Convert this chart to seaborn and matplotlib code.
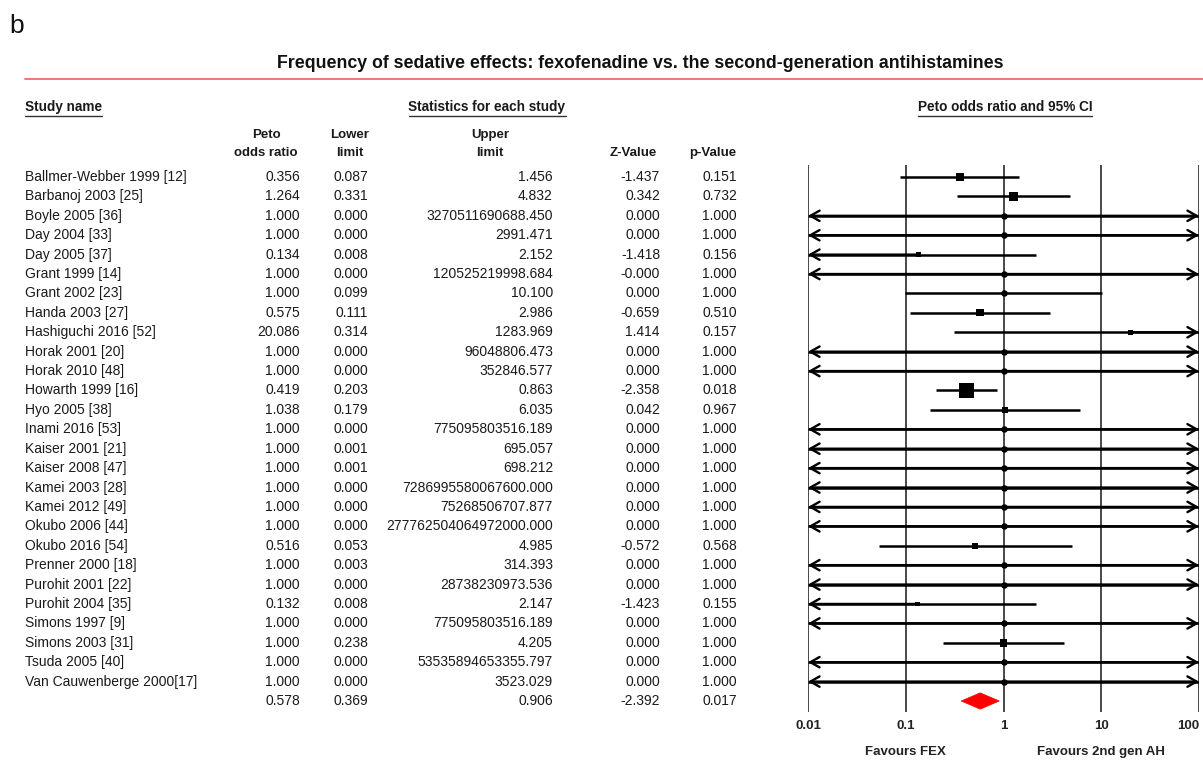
import numpy as np
import pandas as pd
import matplotlib
matplotlib.use("Agg")
import matplotlib.pyplot as plt
import matplotlib.transforms as mtransforms
from matplotlib.patches import Polygon
from matplotlib.lines import Line2D
from matplotlib.ticker import NullLocator
import seaborn as sns

# ---------------- data ----------------
studies = [
    "Ballmer-Webber 1999 [12]", "Barbanoj 2003 [25]", "Boyle 2005 [36]", "Day 2004 [33]",
    "Day 2005 [37]", "Grant 1999 [14]", "Grant 2002 [23]", "Handa 2003 [27]",
    "Hashiguchi 2016 [52]", "Horak 2001 [20]", "Horak 2010 [48]", "Howarth 1999 [16]",
    "Hyo 2005 [38]", "Inami 2016 [53]", "Kaiser 2001 [21]", "Kaiser 2008 [47]",
    "Kamei 2003 [28]", "Kamei 2012 [49]", "Okubo 2006 [44]", "Okubo 2016 [54]",
    "Prenner 2000 [18]", "Purohit 2001 [22]", "Purohit 2004 [35]", "Simons 1997 [9]",
    "Simons 2003 [31]", "Tsuda 2005 [40]", "Van Cauwenberge 2000[17]",
]
odds_ratio = [0.356, 1.264, 1.000, 1.000, 0.134, 1.000, 1.000, 0.575, 20.086, 1.000,
              1.000, 0.419, 1.038, 1.000, 1.000, 1.000, 1.000, 1.000, 1.000, 0.516,
              1.000, 1.000, 0.132, 1.000, 1.000, 1.000, 1.000]
lower_limit = [0.087, 0.331, 0.000, 0.000, 0.008, 0.000, 0.099, 0.111, 0.314, 0.000,
               0.000, 0.203, 0.179, 0.000, 0.001, 0.001, 0.000, 0.000, 0.000, 0.053,
               0.003, 0.000, 0.008, 0.000, 0.238, 0.000, 0.000]
upper_limit = ["1.456", "4.832", "3270511690688.450", "2991.471", "2.152",
               "120525219998.684", "10.100", "2.986", "1283.969", "96048806.473",
               "352846.577", "0.863", "6.035", "775095803516.189", "695.057", "698.212",
               "7286995580067600.000", "75268506707.877", "277762504064972000.000", "4.985",
               "314.393", "28738230973.536", "2.147", "775095803516.189", "4.205",
               "53535894653355.797", "3523.029"]
z_value = [-1.437, 0.342, 0.000, 0.000, -1.418, -0.0, 0.000, -0.659, 1.414, 0.000,
           0.000, -2.358, 0.042, 0.000, 0.000, 0.000, 0.000, 0.000, 0.000, -0.572,
           0.000, 0.000, -1.423, 0.000, 0.000, 0.000, 0.000]
p_value = [0.151, 0.732, 1.000, 1.000, 0.156, 1.000, 1.000, 0.510, 0.157, 1.000,
           1.000, 0.018, 0.967, 1.000, 1.000, 1.000, 1.000, 1.000, 1.000, 0.568,
           1.000, 1.000, 0.155, 1.000, 1.000, 1.000, 1.000]
# relative weight (%) read from the square sizes; 0 = no events (plotted as a dot)
weight = [11, 14, 0, 0, 4, 0, 0, 9, 4, 0,
          0, 40, 6, 0, 0, 0, 0, 0, 0, 6,
          0, 0, 4, 0, 10, 0, 0]
summary = {"or": 0.578, "lower": 0.369, "upper": "0.906", "z": -2.392, "p": 0.017}

axis_ticks = [0.01, 0.1, 1, 10, 100]
axis_tick_labels = ["0.01", "0.1", "1", "10", "100"]

title = "Frequency of sedative effects: fexofenadine vs. the second-generation antihistamines"

# ---------------- figure ----------------
sns.set_theme(style="white")
plt.rcParams["font.family"] = ["Liberation Sans", "DejaVu Sans"]

W, H = 1203, 770
fig = plt.figure(figsize=(W / 100, H / 100), dpi=100)
fig.patch.set_facecolor("white")


def fx(px):
    return px / W


def fy(py):
    return 1 - py / H


n = len(studies)
row0_px, row_step = 177.0, (701.0 - 177.0) / n
ax_top_px, ax_bot_px = 165.0, 712.0
ax = fig.add_axes([fx(808), fy(ax_bot_px), fx(1199) - fx(808), fy(ax_top_px) - fy(ax_bot_px)])
ax.set_facecolor("white")
ax.set_xscale("log")
ax.set_xlim(0.01, 100)
ax.set_ylim((ax_bot_px - row0_px) / row_step, (ax_top_px - row0_px) / row_step)

df = pd.DataFrame({
    "study": studies,
    "or": odds_ratio,
    "lower": lower_limit,
    "upper": [float(u) for u in upper_limit],
    "weight": weight,
    "row": np.arange(n),
})

xmin, xmax = 0.01, 100
arrow_kw = dict(arrowstyle="->,head_length=0.6,head_width=0.34", lw=1.7, color="black",
                shrinkA=0, shrinkB=0, mutation_scale=11)
for _, r in df.iterrows():
    lo = max(r["lower"], xmin)
    hi = min(r["upper"], xmax)
    ax.hlines(r["row"], lo, hi, color="black", lw=1.8, zorder=3)
    if r["lower"] < xmin:
        ax.annotate("", xy=(xmin, r["row"]), xytext=(r["or"], r["row"]),
                    arrowprops=arrow_kw, zorder=3)
    if r["upper"] > xmax:
        ax.annotate("", xy=(xmax, r["row"]), xytext=(r["or"], r["row"]),
                    arrowprops=arrow_kw, zorder=3)

weighted = df[df["weight"] > 0]
area_per_weight = (2.4 * 0.72) ** 2
sns.scatterplot(data=weighted, x="or", y="row", size="weight",
                sizes=(weighted["weight"].min() * area_per_weight,
                       weighted["weight"].max() * area_per_weight),
                marker="s", color="black", linewidth=0, legend=False, ax=ax, zorder=4)
dots = df[df["weight"] == 0]
sns.scatterplot(data=dots, x="or", y="row", marker="o", s=(6.5 * 0.72) ** 2,
                color="black", linewidth=0, legend=False, ax=ax, zorder=4)

# summary diamond
sy = n
dh = 0.42
diamond = Polygon([(summary["lower"], sy), (summary["or"], sy - dh),
                   (float(summary["upper"]), sy), (summary["or"], sy + dh)],
                  closed=True, facecolor="#ff0000", edgecolor="#ff0000", lw=0.5, zorder=5)
ax.add_patch(diamond)

# axis cosmetics (after seaborn calls)
ax.set_xlim(0.01, 100)
ax.set_ylim((ax_bot_px - row0_px) / row_step, (ax_top_px - row0_px) / row_step)
for s in ax.spines.values():
    s.set_visible(False)
ax.set_yticks([])
ax.set_xticks(axis_ticks)
ax.set_xticklabels(axis_tick_labels, fontweight="bold", fontsize=9.5, color="#222222")
ax.get_xticklabels()[-1].set_horizontalalignment("right")
ax.xaxis.set_minor_locator(NullLocator())
ax.tick_params(axis="x", length=0, pad=6)
ax.set_xlabel("")
ax.set_ylabel("")
ax.grid(False)
for t in axis_ticks:
    ax.axvline(t, color="#3a3a3a", lw=1.3, zorder=1)

# favours labels
xfig = mtransforms.blended_transform_factory(ax.transData, fig.transFigure)
ax.text(0.1, fy(752), "Favours FEX", transform=xfig, ha="center", va="center",
        fontsize=9.5, fontweight="bold", color="#222222")
ax.text(10, fy(752), "Favours 2nd gen AH", transform=xfig, ha="center", va="center",
        fontsize=9.5, fontweight="bold", color="#222222")

# ---------------- table ----------------
trans = mtransforms.blended_transform_factory(fig.transFigure, ax.transData)
txt_kw = dict(transform=trans, fontsize=10, color="#1a1a1a", va="center")
col_right = {"or": 300, "lower": 368, "upper": 553, "z": 660, "p": 737}
for i in range(n):
    fig.text(fx(25), i, studies[i], ha="left", **txt_kw)
    fig.text(fx(col_right["or"]), i, f"{odds_ratio[i]:.3f}", ha="right", **txt_kw)
    fig.text(fx(col_right["lower"]), i, f"{lower_limit[i]:.3f}", ha="right", **txt_kw)
    fig.text(fx(col_right["upper"]), i, upper_limit[i], ha="right", **txt_kw)
    fig.text(fx(col_right["z"]), i, f"{z_value[i]:.3f}", ha="right", **txt_kw)
    fig.text(fx(col_right["p"]), i, f"{p_value[i]:.3f}", ha="right", **txt_kw)
fig.text(fx(col_right["or"]), sy, f"{summary['or']:.3f}", ha="right", **txt_kw)
fig.text(fx(col_right["lower"]), sy, f"{summary['lower']:.3f}", ha="right", **txt_kw)
fig.text(fx(col_right["upper"]), sy, summary["upper"], ha="right", **txt_kw)
fig.text(fx(col_right["z"]), sy, f"{summary['z']:.3f}", ha="right", **txt_kw)
fig.text(fx(col_right["p"]), sy, f"{summary['p']:.3f}", ha="right", **txt_kw)

# column headers
hdr_kw = dict(transform=trans, fontsize=9.5, fontweight="bold", color="#1a1a1a",
              va="center", ha="center")
r1 = (135 - row0_px) / row_step
r2 = (153 - row0_px) / row_step
fig.text(fx(266), r1, "Peto", **hdr_kw)
fig.text(fx(266), r2, "odds ratio", **hdr_kw)
fig.text(fx(350), r1, "Lower", **hdr_kw)
fig.text(fx(350), r2, "limit", **hdr_kw)
fig.text(fx(490), r1, "Upper", **hdr_kw)
fig.text(fx(490), r2, "limit", **hdr_kw)
fig.text(fx(633), r2, "Z-Value", **hdr_kw)
fig.text(fx(713), r2, "p-Value", **hdr_kw)

# section headers (underlined)
sec_kw = dict(fontsize=9.8, fontweight="bold", color="#1a1a1a", va="center")
sec = [
    fig.text(fx(25), fy(107), "Study name", ha="left", **sec_kw),
    fig.text(fx(487), fy(107), "Statistics for each study", ha="center", **sec_kw),
    fig.text(fx(1005), fy(107), "Peto odds ratio and 95% CI", ha="center", **sec_kw),
]

# title, panel letter, red rule
fig.text(fx(640), fy(63), title, ha="center", va="center", fontsize=12.8,
         fontweight="bold", color="#111111")
fig.text(fx(9), fy(26), "b", ha="left", va="center", fontsize=19, color="#111111")
fig.add_artist(Line2D([fx(25), 1.0], [fy(79), fy(79)], transform=fig.transFigure,
                      color="#f26a6a", lw=1.3))

fig.canvas.draw()
renderer = fig.canvas.get_renderer()
for t in sec:
    bb = t.get_window_extent(renderer)
    yline = bb.y0 - 1.5
    fig.add_artist(Line2D([bb.x0 / W, bb.x1 / W], [yline / H, yline / H],
                          transform=fig.transFigure, color="#333333", lw=1.0))

fig.savefig("out.png", dpi=100, facecolor="white")
